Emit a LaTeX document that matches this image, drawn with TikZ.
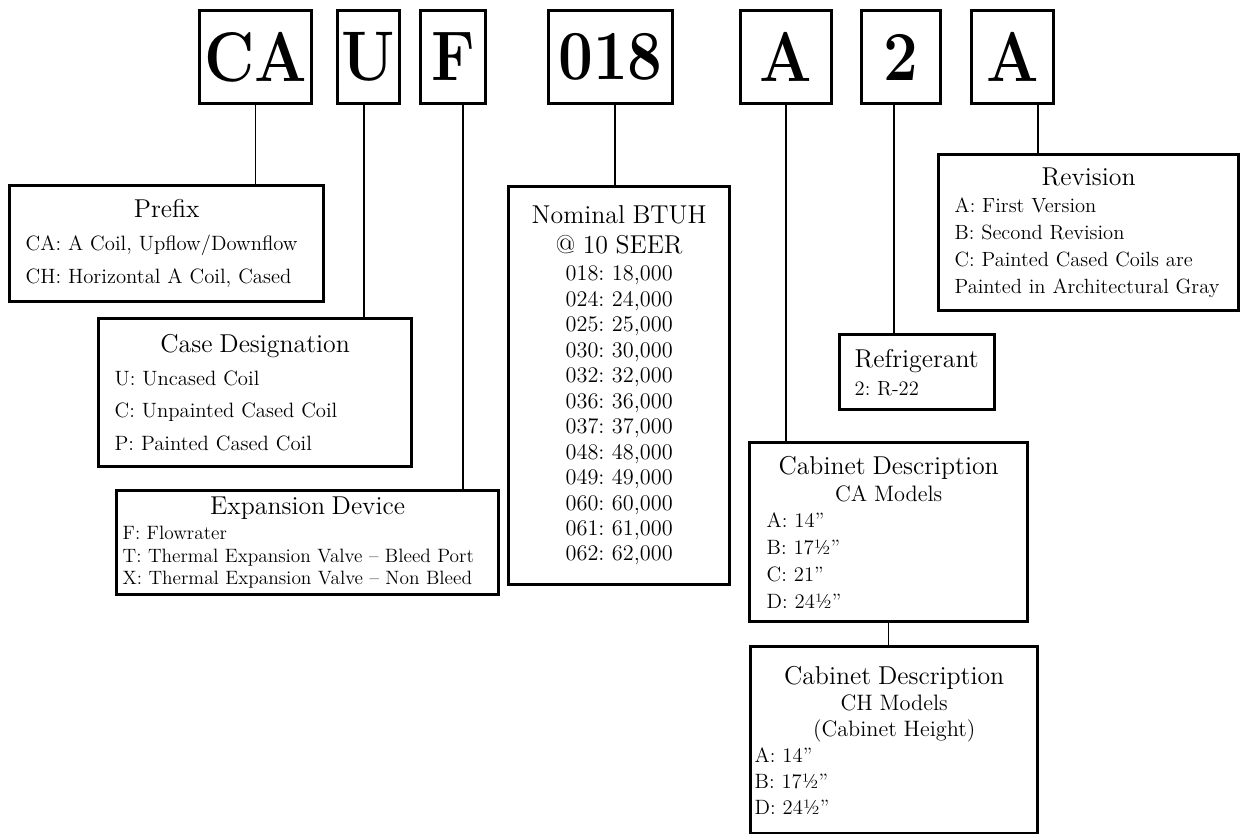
\documentclass[tikz,border=0pt]{standalone}
\usepackage{fontspec}
\usetikzlibrary{positioning}
\frenchspacing
\newlength{\unitpx}\setlength{\unitpx}{0.02cm}
\newcommand{\boxhead}[1]{\makebox[\linewidth]{\fontsize{14.7}{14.7}\selectfont #1}}
\newcommand{\boxsub}[1]{\makebox[\linewidth]{\fontsize{12.7}{12.7}\selectfont #1}}
\newcommand{\squeeze}[1]{\scalebox{0.88}[1]{#1}}

\begin{document}
\begin{tikzpicture}[x=0.02cm,y=-0.02cm,
  letter/.style={draw,line width=1.7pt,inner sep=0pt,anchor=north west,minimum height=93\unitpx,font=\fontsize{40}{40}\selectfont\bfseries},
  info/.style={draw,line width=1.9pt,inner sep=0pt,anchor=north west,align=left},
  link/.style={line width=0.6pt}]
\useasboundingbox (0,0) rectangle (1241,834);
\node[letter,minimum width=112\unitpx] (ca) at (198,9) {\squeeze{CA}};
\node[letter,minimum width=62\unitpx] (u) at (336,9) {\squeeze{U}};
\node[letter,minimum width=65\unitpx] (f) at (419,9) {\squeeze{F}};
\node[letter,minimum width=124\unitpx] (btu) at (547,9) {\squeeze{018}};
\node[letter,minimum width=91\unitpx] (cab) at (739,9) {\squeeze{A}};
\node[letter,minimum width=79\unitpx] (rfg) at (860,9) {\squeeze{2}};
\node[letter,minimum width=82\unitpx] (rev) at (970,9) {\squeeze{A}};

\node[info,minimum width=314\unitpx,minimum height=116\unitpx,text width=282\unitpx,font=\fontsize{11.8}{18.7}\selectfont] (prefix) at (8,184)
  {\boxhead{Prefix}\\CA: A Coil, Upflow/Downflow\\CH: Horizontal A Coil, Cased};
\node[info,minimum width=313\unitpx,minimum height=148\unitpx,text width=281\unitpx,font=\fontsize{11.8}{18.7}\selectfont] (casedes) at (97,317)
  {\boxhead{Case Designation}\\U: Uncased Coil\\C: Unpainted Cased Coil\\P: Painted Cased Coil};
\node[info,minimum width=382\unitpx,minimum height=104\unitpx,text width=370\unitpx,font=\fontsize{11}{12.8}\selectfont] (expdev) at (115,489)
  {\boxhead{Expansion Device}\\[1.5pt]F: Flowrater\\T: Thermal Expansion Valve -- Bleed Port\\X: Thermal Expansion Valve -- Non Bleed};
\node[info,align=center,minimum width=221\unitpx,minimum height=398\unitpx,text width=215\unitpx,font=\fontsize{12.7}{14.5}\selectfont] (nominal) at (507,185)
  {{\fontsize{14.7}{14.7}\selectfont Nominal BTUH}\\[2.5pt]{\fontsize{14.7}{14.7}\selectfont @ 10 SEER}\\[0.8pt]
   018: 18,000\\024: 24,000\\025: 25,000\\030: 30,000\\032: 32,000\\036: 36,000\\
   037: 37,000\\048: 48,000\\049: 49,000\\060: 60,000\\061: 61,000\\062: 62,000};
\node[info,minimum width=300\unitpx,minimum height=156\unitpx,text width=268\unitpx,font=\fontsize{11.7}{15.3}\selectfont] (revision) at (937,153)
  {\boxhead{Revision}\\A: First Version\\B: Second Revision\\C: Painted Cased Coils are\\Painted in Architectural Gray};
\node[info,minimum width=155\unitpx,minimum height=75\unitpx,text width=125\unitpx,font=\fontsize{11.7}{15.9}\selectfont] (refrig) at (838,333)
  {{\fontsize{14.7}{14.7}\selectfont Refrigerant}\\2: R-22};
\node[info,minimum width=278\unitpx,minimum height=179\unitpx,text width=244\unitpx,font=\fontsize{11.8}{15.2}\selectfont] (cabca) at (748,441)
  {\boxhead{Cabinet Description}\\\boxsub{CA Models}\\A: 14''\\B: 17½''\\C: 21''\\D: 24½''};
\node[info,minimum width=287\unitpx,minimum height=187\unitpx,text width=279\unitpx,font=\fontsize{11.8}{14.8}\selectfont] (cabch) at (749,645)
  {\boxhead{Cabinet Description}\\\boxsub{CH Models}\\\boxsub{(Cabinet Height)}\\A: 14''\\B: 17½''\\D: 24½''};

\draw[link] (ca.south) -- (ca.south |- prefix.north);
\draw[link] (u.south -| 364,0) -- (casedes.north -| 364,0);
\draw[link] (f.south -| 463,0) -- (expdev.north -| 463,0);
\draw[link] (btu.south -| 615,0) -- (nominal.north -| 615,0);
\draw[link] (cab.south) -- (cab.south |- cabca.north);
\draw[link] (rfg.south -| 894,0) -- (refrig.north -| 894,0);
\draw[link] (rev.south -| 1038,0) -- (revision.north -| 1038,0);
\draw[link] (cabca.south) -- (cabca.south |- cabch.north);
\end{tikzpicture}
\end{document}
